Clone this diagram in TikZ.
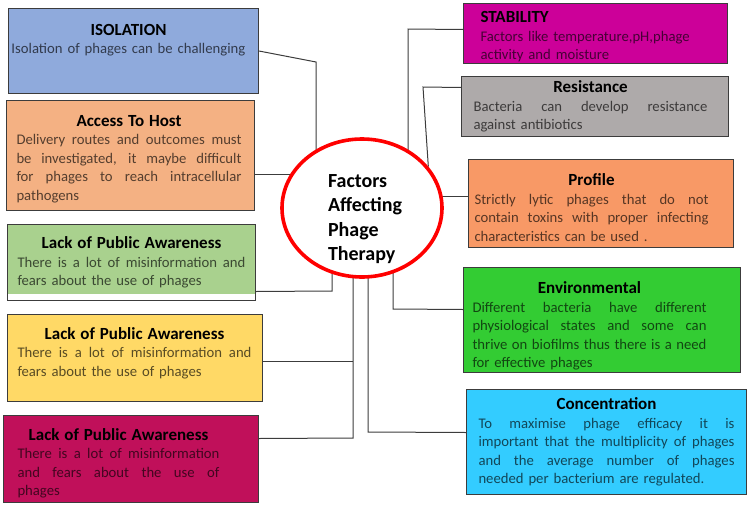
\documentclass[tikz,border=0pt]{standalone}
\usepackage{fontspec}
\setmainfont{Carlito}
\usetikzlibrary{positioning,shapes.geometric,backgrounds}

\definecolor{edgegray}     {RGB}{ 60, 60, 60}
\definecolor{isoblue}      {RGB}{143,170,220}
\definecolor{hostpeach}    {RGB}{244,177,131}
\definecolor{awaregreen}   {RGB}{169,209,142}
\definecolor{awareyellow}  {RGB}{255,217,102}
\definecolor{awarecrimson} {RGB}{192, 16, 90}
\definecolor{stabmagenta}  {RGB}{204,  0,153}
\definecolor{resgray}      {RGB}{174,170,170}
\definecolor{profileorange}{RGB}{248,153,102}
\definecolor{envgreen}     {RGB}{ 51,204, 51}
\definecolor{concblue}     {RGB}{ 51,204,255}
\definecolor{hubred}       {RGB}{255,  0,  0}

\newlength{\blockwd}
\newcommand{\headfont}{\fontsize{17}{20}\selectfont\bfseries}
\newcommand{\bodyfont}{\fontsize{14.7}{18.5}\selectfont}
% heading centred over the text block, justified line filling it
\newcommand{\headline}[1]{\makebox[\blockwd]{\color{black}\headfont #1}}
\newcommand{\fillline}[1]{\makebox[\blockwd][s]{\spaceskip=0.23em plus 1em minus 0.05em
  \xspaceskip=\spaceskip #1}}

\tikzset{
  factor/.style 2 args={draw=edgegray,line width=1pt,anchor=north west,
                 fill=#1,text=black!65!#1,font=\bodyfont,align=left,inner ysep=2pt,
                 execute at begin node={\setlength{\blockwd}{#2}}},
  hub/.style={ellipse,draw=hubred,line width=3.6pt,fill=white,
              minimum width=160pt,minimum height=138pt,
              inner xsep=0pt,inner ysep=-10pt,text width=68pt,align=left,
              font=\fontsize{20}{24.4}\selectfont\bfseries},
  link/.style={draw=edgegray,line width=1pt},
}

\begin{document}
\begin{tikzpicture}[x=1pt,y=-1pt]
  \useasboundingbox (0,0) rectangle (749,506);

  % centre
  \node[hub] (factors) at (362,208) {\rule{0pt}{35pt}Factors\\Affecting\\Phage\\Therapy};

  % left column
  \node[factor={isoblue}{234pt},minimum height=85pt,inner xsep=3pt,text width=244pt] (iso) at (8,8)
    {\headline{ISOLATION}\\Isolation of phages can be challenging\par\vspace*{22pt}};
  \node[factor={hostpeach}{225pt},minimum height=110pt,inner xsep=10pt,text width=228pt] (host) at (6,100)
    {\headline{\rule{0pt}{18.5pt}Access To Host}\\\fillline{Delivery routes and outcomes must}\\
     \fillline{be investigated, it maybe difficult}\\\fillline{for phages to reach intracellular}\\pathogens};
  \node[factor={awaregreen}{228pt},minimum height=76pt,inner xsep=10pt,text width=228pt,
        path picture={\fill[white] (path picture bounding box.south west)
          rectangle ([yshift=7pt]path picture bounding box.south east);}] (aware1) at (7,224)
    {\headline{Lack of Public Awareness}\\\fillline{There is a lot of misinformation and}\\
     fears about the use of phages};
  \node[factor={awareyellow}{234pt},minimum height=87pt,inner xsep=10pt,text width=235pt] (aware2) at (7,314)
    {\headline{Lack of Public Awareness}\\\fillline{There is a lot of misinformation and}\\
     fears about the use of phages\par\vspace*{10pt}};
  \node[factor={awarecrimson}{202pt},minimum height=87pt,inner xsep=14pt,text width=227pt] (aware3) at (3,415)
    {\headline{\rule{0pt}{20.5pt}Lack of Public Awareness}\\\fillline{There is a lot of misinformation}\\
     \fillline{and fears about the use of}\\phages};

  % right column
  \node[factor={stabmagenta}{230pt},minimum height=60pt,inner xsep=17pt,inner ysep=0pt,text width=230pt] (stab) at (463,3)
    {{\color{black}\headfont\rule{0pt}{17.5pt}STABILITY}\\Factors like temperature,pH,phage\\activity and moisture};
  \node[factor={resgray}{234pt},minimum height=60pt,inner xsep=12pt,text width=243pt] (resist) at (461,76)
    {\headline{Resistance}\\\fillline{Bacteria can develop resistance}\\against antibiotics};
  \node[factor={profileorange}{234pt},minimum height=88pt,inner xsep=6pt,text width=253pt] (profile) at (468,159)
    {\headline{\rule{0pt}{20.5pt}Profile}\\\fillline{Strictly lytic phages that do not}\\
     \fillline{contain toxins with proper infecting}\\characteristics can be used .};
  \node[factor={envgreen}{234pt},minimum height=105pt,inner xsep=9pt,inner ysep=0pt,text width=259pt] (env) at (463,267)
    {\headline{\rule{0pt}{24pt}Environmental}\\\fillline{Different bacteria have different}\\
     \fillline{physiological states and some can}\\\fillline{thrive on biofilms thus there is a need}\\
     for effective phages};
  \node[factor={concblue}{256pt},minimum height=105pt,inner xsep=12pt,text width=256pt] (conc) at (466,389)
    {\headline{Concentration}\\\fillline{To maximise phage efficacy it is}\\
     \fillline{important that the multiplicity of phages}\\\fillline{and the average number of phages}\\
     needed per bacterium are regulated.};

  % connectors
  \begin{scope}[on background layer]
    \coordinate (isobend) at (316,62);
    \draw[link] (iso.east) -- (isobend) -- (isobend |- factors);
    \draw[link] ([yshift=-19pt]host.east) -- ([yshift=-19pt]host.east -| factors);
    \coordinate (aware1bend) at (332,291);
    \draw[link] ([yshift=-29pt]aware1.east) -- (aware1bend) -- (aware1bend |- factors);
    \coordinate (lowbend) at (353,438);
    \draw[link] ([yshift=20.5pt]aware3.east) -- (lowbend) -- (lowbend |- factors);
    \draw[link] ([yshift=-3.5pt]aware2.east) -- ([yshift=-3.5pt]aware2.east -| lowbend);
    \coordinate (stabbend) at (408,29);
    \draw[link] ([yshift=4pt]stab.west) -- (stabbend) -- (stabbend |- factors);
    \coordinate (resbend) at (423,87);
    \draw[link] ([yshift=19pt]resist.west) -- (resbend) -- (factors.32);
    \draw[link] ([yshift=7pt]profile.west) -- ([yshift=7pt]profile.west -| factors);
    \coordinate (envbend) at (393,309);
    \draw[link] ([yshift=10.5pt]env.west) -- (envbend) -- (envbend |- factors);
    \coordinate (concbend) at (368,432);
    \draw[link] ([yshift=9.5pt]conc.west) -- (concbend) -- (concbend |- factors);
  \end{scope}
\end{tikzpicture}
\end{document}
